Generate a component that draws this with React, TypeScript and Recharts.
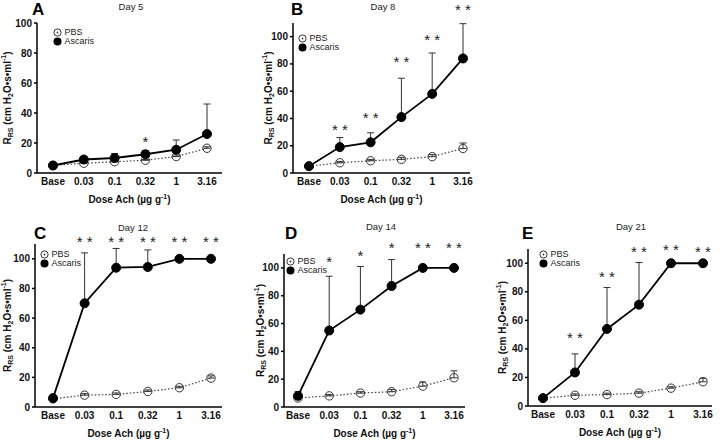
import { LineChart, Line, XAxis, YAxis, ErrorBar, ReferenceDot, Legend } from 'recharts';

const FONT = '"Liberation Sans", Arial, sans-serif';

const DOSES = ['Base', '0.03', '0.1', '0.32', '1', '3.16'];
const Y_TICKS = [0, 20, 40, 60, 80, 100];

// Day 5
const pbsA = [5, 6.5, 7.5, 8.5, 11, 16.5];
const pbsErrA = [0.5, 0.5, 0.5, 0.5, 1, 1];
const ascA = [5, 9, 10, 12.5, 15.5, 26];
const ascErrA = [0.5, 1, 3, 2.5, 6.5, 20];
const starsA = ['', '', '', '*', '', ''];
const starYA = [0, 0, 0, 23, 0, 0];

// Day 8
const pbsB = [5, 7.5, 9, 10, 12, 18];
const pbsErrB = [0.5, 1, 1, 1.5, 1.5, 4];
const ascB = [5, 19, 22.5, 41, 58, 84];
const ascErrB = [0.5, 7, 7, 28.5, 30, 25.5];
const starsB = ['', '**', '**', '**', '**', '**'];
const starYB = [0, 34, 43, 84, 100, 122];

// Day 12
const pbsC = [5.5, 8, 8.5, 10.5, 13, 19.5];
const pbsErrC = [0.5, 1, 1, 1, 1, 1.5];
const ascC = [6, 70, 94, 94.5, 100, 100];
const ascErrC = [1, 34, 13, 11.5, 0, 0];
const starsC = ['', '**', '**', '**', '**', '**'];
const starYC = [0, 113.5, 113.5, 113.5, 113.5, 113.5];

// Day 14
const pbsD = [6.5, 8, 10, 11, 15, 21];
const pbsErrD = [1, 1, 1, 1.5, 3, 5];
const ascD = [8, 55, 70, 87, 100, 100];
const ascErrD = [3, 39, 31, 19, 0, 0];
const starsD = ['', '*', '*', '*', '**', '**'];
const starYD = [0, 107, 111, 116.5, 116.5, 116.5];

// Day 21
const pbsE = [5.5, 7.5, 8, 9, 12.5, 17];
const pbsErrE = [0.5, 1, 1, 1, 1, 2.5];
const ascE = [5.5, 23.5, 54, 71, 100, 100];
const ascErrE = [0.5, 13, 29, 29.5, 0, 0];
const starsE = ['', '**', '**', '**', '**', '**'];
const starYE = [0, 50, 93, 110.5, 112, 110.5];

const SERIES_ORDER = ['PBS', 'Ascaris'];

function buildRows(pbs: number[], pbsErr: number[], asc: number[], ascErr: number[]) {
  return DOSES.map((dose, i) => ({
    dose,
    pbs: pbs[i],
    pbsErr: [0, pbsErr[i]],
    asc: asc[i],
    ascErr: [0, ascErr[i]],
  }));
}

const panels = [
  {
    letter: 'A', day: 'Day 5', rows: buildRows(pbsA, pbsErrA, ascA, ascErrA), stars: starsA, starY: starYA,
    box: { x: 0, y: 0, w: 240, h: 215 }, plot: { l: 37, r: 222, t: 23, b: 173 }, yMax: 100,
    pad: { left: 16, right: 15 }, yLabelDx: -30, legend: { x: 57, y: 32 },
    letterPos: { x: 32, y: 15 }, dayPos: { x: 131, y: 10 },
  },
  {
    letter: 'B', day: 'Day 8', rows: buildRows(pbsB, pbsErrB, ascB, ascErrB), stars: starsB, starY: starYB,
    box: { x: 250, y: 0, w: 230, h: 215 }, plot: { l: 293, r: 470, t: 23, b: 173 }, yMax: 110,
    pad: { left: 16, right: 7 }, yLabelDx: -25, legend: { x: 302, y: 38 },
    letterPos: { x: 291, y: 15 }, dayPos: { x: 383, y: 10 },
  },
  {
    letter: 'C', day: 'Day 12', rows: buildRows(pbsC, pbsErrC, ascC, ascErrC), stars: starsC, starY: starYC,
    box: { x: 0, y: 215, w: 240, h: 225 }, plot: { l: 35, r: 222, t: 244, b: 407 }, yMax: 110,
    pad: { left: 18, right: 11 }, yLabelDx: -28, legend: { x: 44, y: 254 },
    letterPos: { x: 34, y: 239 }, dayPos: { x: 133, y: 231 },
  },
  {
    letter: 'D', day: 'Day 14', rows: buildRows(pbsD, pbsErrD, ascD, ascErrD), stars: starsD, starY: starYD,
    box: { x: 245, y: 215, w: 230, h: 225 }, plot: { l: 284, r: 465, t: 254, b: 407 }, yMax: 110,
    pad: { left: 14, right: 11 }, yLabelDx: -24, legend: { x: 290, y: 261 },
    letterPos: { x: 285, y: 239 }, dayPos: { x: 381, y: 230 },
  },
  {
    letter: 'E', day: 'Day 21', rows: buildRows(pbsE, pbsErrE, ascE, ascErrE), stars: starsE, starY: starYE,
    box: { x: 480, y: 215, w: 240, h: 225 }, plot: { l: 528, r: 712, t: 249, b: 406 }, yMax: 110,
    pad: { left: 15, right: 9 }, yLabelDx: -26, legend: { x: 543, y: 254 },
    letterPos: { x: 522, y: 239 }, dayPos: { x: 631, y: 230 },
  },
];

const yLabelContent = (dx: number) => (props: any) => {
  const vb = props.viewBox;
  const cx = vb.x + vb.width + dx;
  const cy = vb.y + vb.height / 2;
  return (
    <text
      transform={`translate(${cx},${cy}) rotate(-90)`}
      textAnchor="middle"
      dominantBaseline="central"
      fontSize={10}
      fontWeight="bold"
      fontFamily={FONT}
      fill="#111"
    >
      R<tspan fontSize={7} dy={2.5}>RS</tspan>
      <tspan dy={-2.5}> (cm H</tspan>
      <tspan fontSize={7} dy={2.5}>2</tspan>
      <tspan dy={-2.5}>O•s•ml</tspan>
      <tspan fontSize={7} dy={-4}>-1</tspan>
      <tspan dy={4}>)</tspan>
    </text>
  );
};

const xLabelContent = (props: any) => {
  const vb = props.viewBox;
  return (
    <text
      x={vb.x + vb.width / 2}
      y={vb.y + 30}
      textAnchor="middle"
      fontSize={10}
      fontWeight="bold"
      fontFamily={FONT}
      fill="#111"
    >
      Dose Ach (µg g<tspan fontSize={7} dy={-4}>-1</tspan>
      <tspan dy={4}>)</tspan>
    </text>
  );
};

const renderLegend = (props: any) => {
  const items = [...(props.payload || [])].sort(
    (a: any, b: any) => SERIES_ORDER.indexOf(a.value) - SERIES_ORDER.indexOf(b.value)
  );
  return (
    <div style={{ fontFamily: FONT, fontSize: 9, color: '#222' }}>
      {items.map((e: any) => (
        <div key={e.value} style={{ display: 'flex', alignItems: 'center', height: 9.5 }}>
          <svg width={9} height={9} style={{ display: 'block' }}>
            {e.value === 'PBS' ? (
              <>
                <circle cx={4.5} cy={4.5} r={3.6} fill="none" stroke="#333" strokeWidth={1} />
                <circle cx={4.5} cy={4.5} r={0.9} fill="#333" />
              </>
            ) : (
              <circle cx={4.5} cy={4.5} r={4} fill="#000" />
            )}
          </svg>
          <span style={{ marginLeft: 3, lineHeight: '9px' }}>{e.value}</span>
        </div>
      ))}
    </div>
  );
};

function Panel({ p }: { p: (typeof panels)[number] }) {
  const { box, plot } = p;
  const margin = { top: plot.t - box.y, right: box.x + box.w - plot.r, left: 0, bottom: 0 };
  const tickStyle = { fontSize: 10, fontWeight: 'bold', fill: '#111', fontFamily: FONT };
  return (
    <div style={{ position: 'absolute', left: box.x, top: box.y }}>
      <LineChart width={box.w} height={box.h} data={p.rows} margin={margin} style={{ overflow: 'visible' }}>
        <XAxis
          dataKey="dose"
          interval={0}
          height={box.y + box.h - plot.b}
          padding={p.pad}
          tickLine={false}
          tickSize={0}
          tickMargin={5}
          tick={tickStyle}
          axisLine={{ stroke: '#000', strokeWidth: 1.5 }}
          label={{ content: xLabelContent }}
        />
        <YAxis
          type="number"
          domain={[0, p.yMax]}
          allowDataOverflow
          ticks={Y_TICKS}
          width={plot.l - box.x}
          tickSize={3}
          tickMargin={2}
          tick={tickStyle}
          axisLine={{ stroke: '#000', strokeWidth: 1.5 }}
          tickLine={{ stroke: '#000', strokeWidth: 1.5 }}
          label={{ content: yLabelContent(p.yLabelDx) }}
        />
        <Legend
          layout="vertical"
          align="center"
          verticalAlign="middle"
          content={renderLegend}
          wrapperStyle={{
            left: p.legend.x - 4.5 - box.x,
            top: p.legend.y - 4.75 - box.y,
            width: 'auto',
            height: 'auto',
          }}
        />
        <Line
          name="PBS"
          dataKey="pbs"
          stroke="#444"
          strokeWidth={1.2}
          strokeDasharray="1.5 2"
          dot={{ r: 4.2, fill: 'none', stroke: '#333', strokeWidth: 1, strokeDasharray: '' }}
          isAnimationActive={false}
        >
          <ErrorBar dataKey="pbsErr" direction="y" width={3.5} stroke="#333" strokeWidth={1} />
        </Line>
        <Line
          name="Ascaris"
          dataKey="asc"
          stroke="#000"
          strokeWidth={1.8}
          dot={{ r: 4.5, fill: '#000', stroke: '#000', strokeWidth: 1 }}
          isAnimationActive={false}
        >
          <ErrorBar dataKey="ascErr" direction="y" width={3.5} stroke="#333" strokeWidth={1} />
        </Line>
        {p.stars.map((s, i) =>
          s ? (
            <ReferenceDot
              key={i}
              x={DOSES[i]}
              y={p.starY[i]}
              r={0}
              ifOverflow="visible"
              shape={(sp: any) => (
                <text
                  x={sp.cx}
                  y={sp.cy + 8.5}
                  textAnchor="middle"
                  fontSize={15}
                  fontFamily={FONT}
                  fill="#222"
                >
                  {s === '**' ? '* *' : '*'}
                </text>
              )}
            />
          ) : null
        )}
      </LineChart>
    </div>
  );
}

export default function App() {
  return (
    <div style={{ position: 'absolute', left: 0, top: 0, width: 720, height: 440, background: '#fff', fontFamily: FONT }}>
      {panels.map((p) => (
        <Panel key={p.letter} p={p} />
      ))}
      <svg width={720} height={440} style={{ position: 'absolute', left: 0, top: 0, pointerEvents: 'none' }}>
        {panels.map((p) => (
          <g key={p.letter}>
            <text x={p.letterPos.x} y={p.letterPos.y} fontSize={17} fontWeight="bold" fontFamily={FONT} fill="#000">
              {p.letter}
            </text>
            <text x={p.dayPos.x} y={p.dayPos.y} textAnchor="middle" fontSize={9.5} fontFamily={FONT} fill="#222">
              {p.day}
            </text>
          </g>
        ))}
      </svg>
    </div>
  );
}
